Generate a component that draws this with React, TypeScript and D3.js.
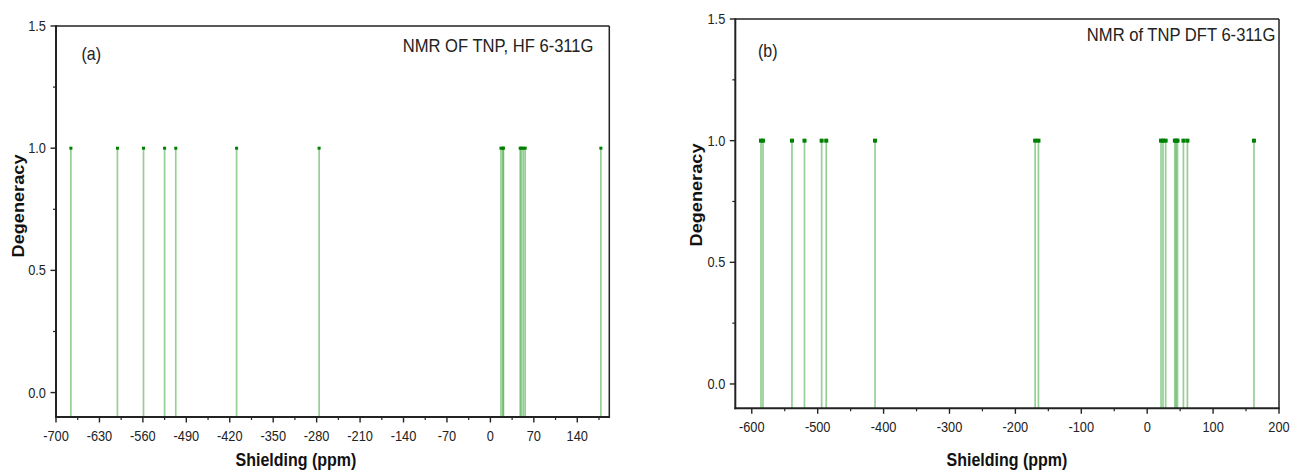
import React from "react";
import * as d3 from "d3";

// ---- Data ----
const shieldingHF: number[] = [-676, -601, -559, -525, -507, -409, -276, 17, 20, 21, 48, 50, 53, 56, 178];
const degeneracyHF: number[] = shieldingHF.map(() => 1);
const shieldingDFT: number[] = [-586, -583, -539, -520, -494, -487, -413, -170, -165, 21, 24, 28, 42, 44, 46, 55, 61, 162];
const degeneracyDFT: number[] = shieldingDFT.map(() => 1);

const xTicksA: number[] = [-700, -630, -560, -490, -420, -350, -280, -210, -140, -70, 0, 70, 140];
const xMinorA: number[] = [-665, -595, -525, -455, -385, -315, -245, -175, -105, -35, 35, 105, 175];
const xTicksB: number[] = [-600, -500, -400, -300, -200, -100, 0, 100, 200];
const xMinorB: number[] = [-550, -450, -350, -250, -150, -50, 50, 150];
const yTicks: number[] = [0, 0.5, 1.0, 1.5];
const yMinor: number[] = [0.25, 0.75, 1.25];

const FONT = "'Liberation Sans', Arial, Helvetica, sans-serif";
const SY = 1.15; // vertical stretch of the original image text

interface PanelProps {
  left: number; right: number; top: number; bottom: number;
  xDomain: [number, number];
  xTicks: number[]; xMinor: number[];
  xs: number[]; ys: number[];
  label: string; labelX: number; labelY: number;
  title: string; titleX: number; titleY: number;
  yTitleX: number; yTitleY: number;
  xTitleX: number; xTitleY: number;
  markerSize: number;
}

function T({ x, y, anchor = "start", size, weight = "normal", rotate = 0, fill = "#222", children }: any) {
  const tr = rotate
    ? `translate(${x},${y}) scale(1,${SY}) rotate(${rotate})`
    : `translate(${x},${y}) scale(1,${SY})`;
  return (
    <text transform={tr} textAnchor={anchor} fontSize={size} fontWeight={weight} fontFamily={FONT} fill={fill}>
      {children}
    </text>
  );
}

function Panel(p: PanelProps) {
  const x = d3.scaleLinear().domain(p.xDomain).range([p.left, p.right]);
  const y = d3.scaleLinear().domain([-0.1, 1.5]).range([p.bottom, p.top]);
  const axisColor = "#222";
  return (
    <g>
      {/* stems */}
      {p.xs.map((v, i) => (
        <line key={"s" + i} x1={x(v)} x2={x(v)} y1={p.bottom} y2={y(p.ys[i])}
          stroke="#139413" strokeOpacity={0.45} strokeWidth={1.7} />
      ))}
      {p.xs.map((v, i) => (
        <rect key={"m" + i} x={x(v) - p.markerSize / 2} y={y(p.ys[i]) - p.markerSize / 2}
          width={p.markerSize} height={p.markerSize} fill="#008000" />
      ))}
      {/* frame */}
      <line x1={p.left} x2={p.right} y1={p.top} y2={p.top} stroke={axisColor} strokeWidth={1.5} />
      <line x1={p.right} x2={p.right} y1={p.top} y2={p.bottom} stroke={axisColor} strokeWidth={1.5} />
      <line x1={p.left} x2={p.left} y1={p.top - 0.75} y2={p.bottom + 1} stroke={axisColor} strokeWidth={2} />
      <line x1={p.left - 1} x2={p.right + 0.75} y1={p.bottom} y2={p.bottom} stroke={axisColor} strokeWidth={2} />
      {/* x ticks */}
      {p.xTicks.map((t) => (
        <g key={"xt" + t}>
          <line x1={x(t)} x2={x(t)} y1={p.bottom} y2={p.bottom + 5.5} stroke={axisColor} strokeWidth={1.4} />
          <T x={x(t)} y={p.bottom + 24} anchor="middle" size={12.8}>{String(t)}</T>
        </g>
      ))}
      {p.xMinor.map((t) => (
        <line key={"xm" + t} x1={x(t)} x2={x(t)} y1={p.bottom} y2={p.bottom + 3} stroke={axisColor} strokeWidth={1.2} />
      ))}
      {/* y ticks */}
      {yTicks.map((t) => (
        <g key={"yt" + t}>
          <line x1={p.left} x2={p.left - 5.5} y1={y(t)} y2={y(t)} stroke={axisColor} strokeWidth={1.4} />
          <T x={p.left - 10} y={y(t) + 5} anchor="end" size={12.8}>{t.toFixed(1)}</T>
        </g>
      ))}
      {yMinor.map((t) => (
        <line key={"ym" + t} x1={p.left} x2={p.left - 3} y1={y(t)} y2={y(t)} stroke={axisColor} strokeWidth={1.2} />
      ))}
      {/* texts */}
      <T x={p.labelX} y={p.labelY} size={16}>{p.label}</T>
      <T x={p.titleX} y={p.titleY} anchor="end" size={16.6}>{p.title}</T>
      <T x={p.yTitleX} y={p.yTitleY} anchor="middle" size={15.8} weight="bold" rotate={-90} fill="#111">Degeneracy</T>
      <T x={p.xTitleX} y={p.xTitleY} anchor="middle" size={16} weight="bold" fill="#111">Shielding (ppm)</T>
    </g>
  );
}

export default function App() {
  return (
    <svg width={1292} height={471} style={{ position: "absolute", left: 0, top: 0, background: "#fff" }}>
      <rect x={0} y={0} width={1292} height={471} fill="#fff" />
      <Panel left={56} right={609.3} top={26} bottom={417} xDomain={[-700, 191.6]}
        xTicks={xTicksA} xMinor={xMinorA} xs={shieldingHF} ys={degeneracyHF}
        label="(a)" labelX={81.5} labelY={60}
        title="NMR OF TNP, HF 6-311G" titleX={593.5} titleY={51.5}
        yTitleX={23.5} yTitleY={206} xTitleX={296} xTitleY={466} markerSize={3} />
      <Panel left={735.3} right={1279} top={19} bottom={408.3} xDomain={[-625, 200]}
        xTicks={xTicksB} xMinor={xMinorB} xs={shieldingDFT} ys={degeneracyDFT}
        label="(b)" labelX={758} labelY={57}
        title="NMR of TNP DFT 6-311G" titleX={1275.5} titleY={41}
        yTitleX={702} yTitleY={195} xTitleX={1007} xTitleY={466} markerSize={4} />
    </svg>
  );
}
